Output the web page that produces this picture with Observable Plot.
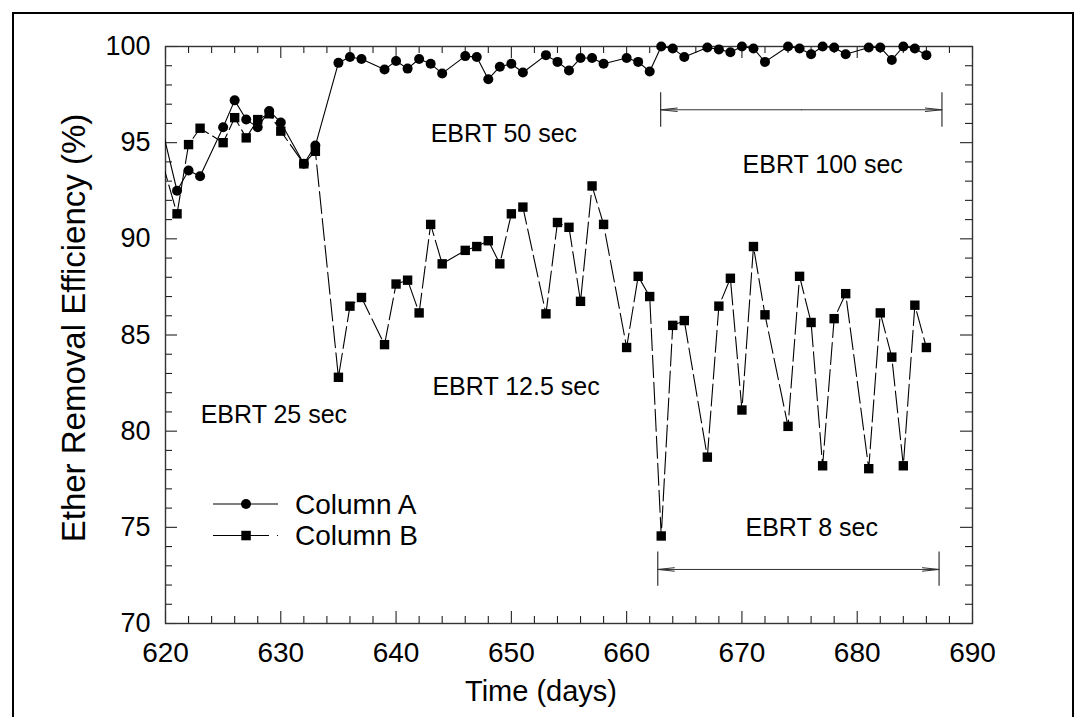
<!DOCTYPE html>
<html><head><meta charset="utf-8">
<script src="https://cdn.jsdelivr.net/npm/d3@7"></script>
<script src="https://cdn.jsdelivr.net/npm/@observablehq/plot@0.6"></script>
<style>
body{margin:0;background:#fff;font-family:"Liberation Sans",Arial,sans-serif;}
#wrap{position:relative;width:1086px;height:717px;overflow:hidden;background:#fff;}
#border{position:absolute;left:12px;top:12px;width:1062px;height:730px;border:2px solid #000;box-sizing:border-box;}
#chart{position:absolute;left:0;top:0;}
#legend{position:absolute;left:0;top:0;}
</style></head><body>
<div id="wrap"><div id="border"></div><div id="chart"></div>
<svg id="legend" width="1086" height="717" font-family="Liberation Sans, Arial, sans-serif">
  <line x1="213" y1="504" x2="278" y2="504" stroke="#000" stroke-width="1.2"/>
  <circle cx="246" cy="504" r="5" fill="#000"/>
  <text x="295" y="504" dy="0.35em" font-size="28">Column A</text>
  <line x1="213" y1="535.5" x2="280" y2="535.5" stroke="#000" stroke-width="1.2" stroke-dasharray="56,8,1,3"/>
  <rect x="241.3" y="530.8" width="9.5" height="9.5" fill="#000"/>
  <text x="295" y="535.5" dy="0.35em" font-size="28">Column B</text>
</svg>
</div>
<script>
// Time (days); the first entry lies before the plotted range (its lines are clipped at 620)
const days = [619,621,622,623,625,626,627,628,629,630,632,633,635,636,637,639,640,641,642,643,644,646,647,648,649,650,651,653,654,655,656,657,658,660,661,662,663,664,665,667,668,669,670,671,672,674,675,676,677,678,679,681,682,683,684,685,686];
// Ether removal efficiency (%), Column A
const columnA = [97.5,92.5,93.55,93.25,95.8,97.2,96.2,95.8,96.65,96.05,93.9,94.85,99.15,99.45,99.35,98.8,99.25,98.85,99.35,99.1,98.6,99.5,99.45,98.3,98.95,99.1,98.65,99.55,99.2,98.75,99.4,99.4,99.1,99.4,99.2,98.7,100,99.9,99.45,99.95,99.85,99.7,100,99.9,99.2,100,99.9,99.6,100,99.95,99.6,99.95,99.95,99.3,100,99.9,99.55];
// Ether removal efficiency (%), Column B
const columnB = [95.5,91.3,94.9,95.75,95.0,96.3,95.25,96.2,96.5,95.6,93.9,94.55,82.8,86.5,86.95,84.5,87.65,87.85,86.15,90.75,88.7,89.4,89.6,89.9,88.7,91.3,91.65,86.1,90.85,90.6,86.75,92.75,90.75,84.35,88.05,87.0,74.55,85.5,85.75,78.65,86.5,87.95,81.1,89.6,86.05,80.25,88.05,85.65,78.2,85.85,87.15,78.05,86.15,83.85,78.2,86.55,84.35];

const xTickLabels = [620,630,640,650,660,670,680,690];
const yTickLabels = [70,75,80,85,90,95,100];
const xMinorTicks = [622,624,626,628,632,634,636,638,642,644,646,648,652,654,656,658,662,664,666,668,672,674,676,678,682,684,686,688];
const yMinorTicks = [71,72,73,74,76,77,78,79,81,82,83,84,86,87,88,89,91,92,93,94,96,97,98,99];

// EBRT annotations (text anchored at its right end)
const noteText = ["EBRT 50 sec","EBRT 100 sec","EBRT 12.5 sec","EBRT 25 sec","EBRT 8 sec"];
const noteDay  = [655.7, 683.96, 657.66, 635.75, 681.8];
const noteVal  = [95.45, 93.85, 82.32, 80.82, 74.98];

// double-headed span arrows
const spanStart = [662.95, 662.7];
const spanEnd   = [687.35, 687.1];
const spanVal   = [96.71, 72.81];
const spanBarTop = [97.6, 73.72];
const spanBarBottom = [95.8, 71.94];

const data = days.map((d,i)=>({day:d, a:columnA[i], b:columnB[i]}));
const notes = noteText.map((t,i)=>({t, x:noteDay[i], y:noteVal[i]}));
const spans = spanStart.map((s,i)=>({x1:s, x2:spanEnd[i], y:spanVal[i], yt:spanBarTop[i], yb:spanBarBottom[i]}));
const spanBars = spans.flatMap(s=>[{x:s.x1,y1:s.yt,y2:s.yb},{x:s.x2,y1:s.yt,y2:s.yb}]);

const W = 1086, H = 717, mL = 165, mR = 114, mT = 46, mB = 94;
const fw = W - mL - mR, fh = H - mT - mB;
const tickStyle = {stroke:"#222", strokeWidth:1.1};
const minorLen = 7, majorLen = 12;

const chart = Plot.plot({
  width:W, height:H,
  marginLeft:mL, marginRight:mR, marginTop:mT, marginBottom:mB,
  x:{domain:[620,690]},
  y:{domain:[70,100]},
  style:{fontFamily:"Liberation Sans, Arial, sans-serif", color:"#000", background:"transparent", overflow:"visible"},
  marks:[
    // inward ticks on all four sides
    Plot.ruleX(xMinorTicks,{x:d=>d, insetTop:fh-minorLen, ...tickStyle}),
    Plot.ruleX(xTickLabels,{x:d=>d, insetTop:fh-majorLen, ...tickStyle}),
    Plot.ruleX(xMinorTicks,{x:d=>d, insetBottom:fh-minorLen, ...tickStyle}),
    Plot.ruleX(xTickLabels,{x:d=>d, insetBottom:fh-majorLen, ...tickStyle}),
    Plot.ruleY(yMinorTicks,{y:d=>d, insetRight:fw-minorLen, ...tickStyle}),
    Plot.ruleY(yTickLabels,{y:d=>d, insetRight:fw-majorLen, ...tickStyle}),
    Plot.ruleY(yMinorTicks,{y:d=>d, insetLeft:fw-minorLen, ...tickStyle}),
    Plot.ruleY(yTickLabels,{y:d=>d, insetLeft:fw-majorLen, ...tickStyle}),
    // tick labels
    Plot.axisX(xTickLabels,{anchor:"bottom", tickSize:0, tickPadding:19, fontSize:28, label:null}),
    Plot.axisY(yTickLabels,{anchor:"left", tickSize:0, tickPadding:15, fontSize:27, label:null}),
    Plot.frame({stroke:"#333", strokeWidth:1.4}),
    // axis titles
    Plot.text(["Time (days)"],{frameAnchor:"bottom", dy:68, dx:-28, fontSize:29, lineAnchor:"middle"}),
    Plot.text(["Ether Removal Efficiency (%)"],{frameAnchor:"left", rotate:-90, textAnchor:"middle", lineAnchor:"middle", dx:-91, dy:-7, fontSize:33}),
    // data
    Plot.line(data,{x:"day", y:"b", stroke:"#000", strokeWidth:1.1, strokeDasharray:"22,5", clip:true}),
    Plot.line(data,{x:"day", y:"a", stroke:"#000", strokeWidth:1.1, clip:true}),
    Plot.dot(data,{filter:d=>d.day>=620, x:"day", y:"a", r:5, fill:"#000", stroke:null}),
    Plot.dot(data,{filter:d=>d.day>=620, x:"day", y:"b", r:5.3, symbol:"square", fill:"#000", stroke:null}),
    // annotations
    Plot.text(notes,{x:"x", y:"y", text:"t", textAnchor:"end", lineAnchor:"middle", fontSize:25}),
    Plot.ruleX(spanBars,{x:"x", y1:"y1", y2:"y2", stroke:"#333", strokeWidth:1.2}),
    Plot.arrow(spans,{x1:d=>(d.x1+d.x2)/2, x2:"x1", y1:"y", y2:"y", stroke:"#333", strokeWidth:1, headAngle:12, headLength:25}),
    Plot.arrow(spans,{x1:d=>(d.x1+d.x2)/2, x2:"x2", y1:"y", y2:"y", stroke:"#333", strokeWidth:1, headAngle:12, headLength:25})
  ]
});
document.getElementById("chart").appendChild(chart);
</script>
</body></html>
